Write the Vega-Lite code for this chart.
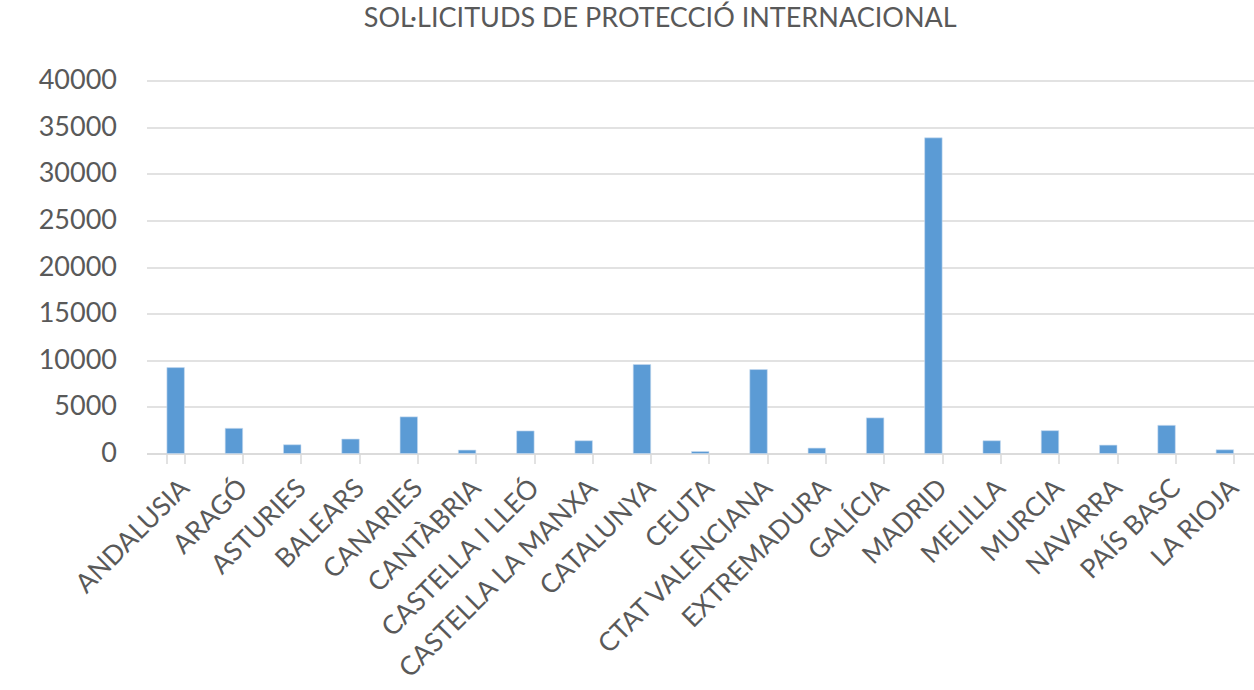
{
  "$schema": "https://vega.github.io/schema/vega-lite/v6.json",
  "autosize": "none",
  "padding": {"left": 146.5, "top": 80.5, "right": 0, "bottom": 236.5},
  "width": 1107.5,
  "height": 373,
  "background": "white",
  "title": {"text": "SOL·LICITUDS DE PROTECCIÓ INTERNACIONAL", "font": "Lato", "fontSize": 27, "fontWeight": "normal", "color": "#595959", "offset": 34, "dx": -40},
  "data": {"values": [
    {"ccaa": "ANDALUSIA", "v": 9210},
    {"ccaa": "ARAGÓ", "v": 2700},
    {"ccaa": "ASTURIES", "v": 940},
    {"ccaa": "BALEARS", "v": 1550},
    {"ccaa": "CANARIES", "v": 3930},
    {"ccaa": "CANTÀBRIA", "v": 370},
    {"ccaa": "CASTELLA I LLEÓ", "v": 2420},
    {"ccaa": "CASTELLA LA MANXA", "v": 1370},
    {"ccaa": "CATALUNYA", "v": 9540},
    {"ccaa": "CEUTA", "v": 215},
    {"ccaa": "CTAT VALENCIANA", "v": 9000},
    {"ccaa": "EXTREMADURA", "v": 580},
    {"ccaa": "GALÍCIA", "v": 3820},
    {"ccaa": "MADRID", "v": 33850},
    {"ccaa": "MELILLA", "v": 1370},
    {"ccaa": "MURCIA", "v": 2450},
    {"ccaa": "NAVARRA", "v": 900},
    {"ccaa": "PAÍS BASC", "v": 3020},
    {"ccaa": "LA RIOJA", "v": 400}
  ]},
  "mark": {"type": "bar", "color": "#5b9bd5", "stroke": "#c9dcf0", "strokeWidth": 0.6},
  "encoding": {
    "x": {"field": "ccaa", "type": "nominal", "sort": null,
      "scale": {"paddingInner": 0.7, "paddingOuter": 0.35},
      "axis": {"title": null, "labelAngle": -45, "labelFont": "Lato", "labelFontSize": 26.5, "labelColor": "#595959",
        "domainColor": "#d9d9d9", "domainWidth": 1.5, "tickColor": "#d9d9d9", "tickWidth": 1.5, "tickSize": 10,
        "tickBand": "extent", "labelPadding": 11, "labelOverlap": false, "labelLimit": 0}},
    "y": {"field": "v", "type": "quantitative",
      "scale": {"domain": [0, 40000], "nice": false},
      "axis": {"title": null, "values": [0, 5000, 10000, 15000, 20000, 25000, 30000, 35000, 40000], "format": "d",
        "labelFont": "Lato", "labelFontSize": 27, "labelColor": "#595959", "labelPadding": 30,
        "domain": false, "ticks": false, "gridColor": "#d9d9d9", "gridWidth": 1.5}}
  },
  "config": {"view": {"stroke": null}}
}
